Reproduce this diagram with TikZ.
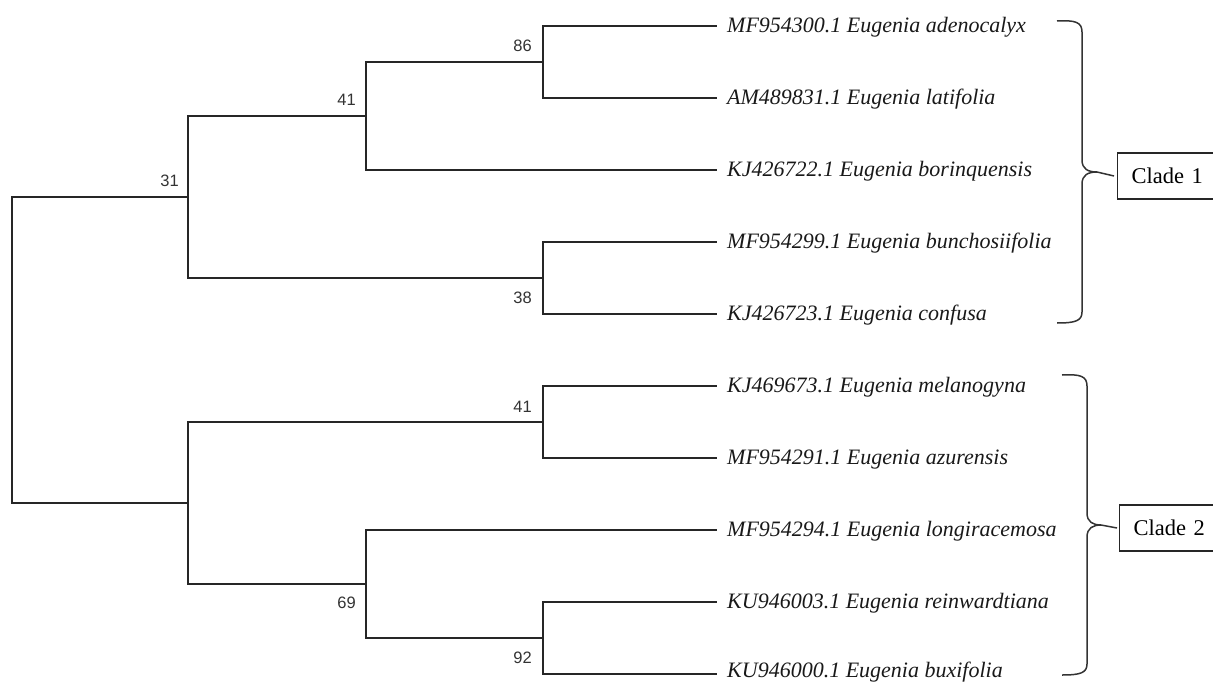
\documentclass[tikz,border=0pt]{standalone}
\usepackage{fontspec}
\setmainfont{Liberation Serif}
\newfontfamily\numfont{Liberation Sans}
\begin{document}
\begin{tikzpicture}[x=1pt,y=-1pt,
  branch/.style={line width=1.8pt, draw=black!85},
  leaflabel/.style={anchor=base west, inner sep=0pt, font=\fontsize{22}{26}\selectfont\itshape, text=black!90},
  bootabove/.style={anchor=south east, inner sep=0pt, font=\numfont\fontsize{16.5}{18}\selectfont, text=black!80},
  bootbelow/.style={anchor=north east, inner sep=0pt, font=\numfont\fontsize{16.5}{18}\selectfont, text=black!80},
  bracepath/.style={line width=1.5pt, draw=black!80},
  cladebox/.style={draw=black!85, line width=1.3pt, anchor=west, inner xsep=14pt, text width=82pt, minimum height=46pt, align=left, font=\fontsize{22.5}{26}\selectfont}]
\useasboundingbox (0,0) rectangle (1213,682);

% internal nodes
\coordinate (root) at (12,349.7);
\coordinate (n31) at (188,196.7);
\coordinate (n41a) at (366,115.7);
\coordinate (n86) at (543,61.7);
\coordinate (n38) at (543,277.7);
\coordinate (nc2) at (188,502.7);
\coordinate (n41b) at (543,421.7);
\coordinate (n69) at (366,583.7);
\coordinate (n92) at (543,637.7);

% leaf ends
\coordinate (e1) at (717,25.7);
\coordinate (e2) at (717,97.7);
\coordinate (e3) at (717,169.7);
\coordinate (e4) at (717,241.7);
\coordinate (e5) at (717,313.7);
\coordinate (e6) at (717,385.7);
\coordinate (e7) at (717,457.7);
\coordinate (e8) at (717,529.7);
\coordinate (e9) at (717,601.7);
\coordinate (e10) at (717,673.7);

% branches
\draw[branch] (root) |- (n31);
\draw[branch] (root) |- (nc2);
\draw[branch] (n31) |- (n41a);
\draw[branch] (n31) |- (n38);
\draw[branch] (n41a) |- (n86);
\draw[branch] (n41a) |- (e3);
\draw[branch] (n86) |- (e1);
\draw[branch] (n86) |- (e2);
\draw[branch] (n38) |- (e4);
\draw[branch] (n38) |- (e5);
\draw[branch] (nc2) |- (n41b);
\draw[branch] (nc2) |- (n69);
\draw[branch] (n41b) |- (e6);
\draw[branch] (n41b) |- (e7);
\draw[branch] (n69) |- (e8);
\draw[branch] (n69) |- (n92);
\draw[branch] (n92) |- (e9);
\draw[branch] (n92) |- (e10);

% bootstrap values
\node[bootabove] (b31) at ([xshift=-9pt,yshift=10pt]n31) {31};
\node[bootabove] (b41a) at ([xshift=-10pt,yshift=9.7pt]n41a) {41};
\node[bootabove] (b86) at ([xshift=-11pt,yshift=9.4pt]n86) {86};
\node[bootbelow] (b38) at ([xshift=-11pt,yshift=-14pt]n38) {38};
\node[bootabove] (b41b) at ([xshift=-11pt,yshift=9pt]n41b) {41};
\node[bootbelow] (b69) at ([xshift=-10pt,yshift=-13pt]n69) {69};
\node[bootbelow] (b92) at ([xshift=-11pt,yshift=-14pt]n92) {92};

% leaf labels
\node[leaflabel] (t1) at (727,32.7) {MF954300.1 Eugenia adenocalyx};
\node[leaflabel] (t2) at (727,104.7) {AM489831.1 Eugenia latifolia};
\node[leaflabel] (t3) at (727,176.7) {KJ426722.1 Eugenia borinquensis};
\node[leaflabel] (t4) at (727,248.7) {MF954299.1 Eugenia bunchosiifolia};
\node[leaflabel] (t5) at (727,320.7) {KJ426723.1 Eugenia confusa};
\node[leaflabel] (t6) at (727,392.7) {KJ469673.1 Eugenia melanogyna};
\node[leaflabel] (t7) at (727,464.7) {MF954291.1 Eugenia azurensis};
\node[leaflabel] (t8) at (727,536.7) {MF954294.1 Eugenia longiracemosa};
\node[leaflabel] (t9) at (727,608.7) {KU946003.1 Eugenia reinwardtiana};
\node[leaflabel] (t10) at (727,677.5) {KU946000.1 Eugenia buxifolia};

% clade boxes
\node[cladebox] (c1) at (1117,176) {Clade 1};
\node[cladebox] (c2) at (1119,528) {Clade 2};

% braces
\coordinate (tip1) at (1097,172);
\coordinate (tip2) at (1101,525);
\draw[bracepath] (1057,21) .. controls (1075,20) and (1082,22) .. (1082,32)
  -- (1082,160) .. controls (1082,169) and (1088,172) .. (tip1)
  .. controls (1088,172) and (1082,175) .. (1082,184)
  -- (1082,312) .. controls (1082,321) and (1075,323) .. (1057,323);
\draw[bracepath] (1062,375) .. controls (1080,374) and (1087,376) .. (1087,386)
  -- (1087,513) .. controls (1087,522) and (1093,525) .. (tip2)
  .. controls (1093,525) and (1087,528) .. (1087,537)
  -- (1087,664) .. controls (1087,673) and (1080,675) .. (1062,675);
\draw[bracepath] (tip1) -- ([xshift=-3pt]c1.west);
\draw[bracepath] (tip2) -- ([xshift=-2pt]c2.west);
\end{tikzpicture}
\end{document}
